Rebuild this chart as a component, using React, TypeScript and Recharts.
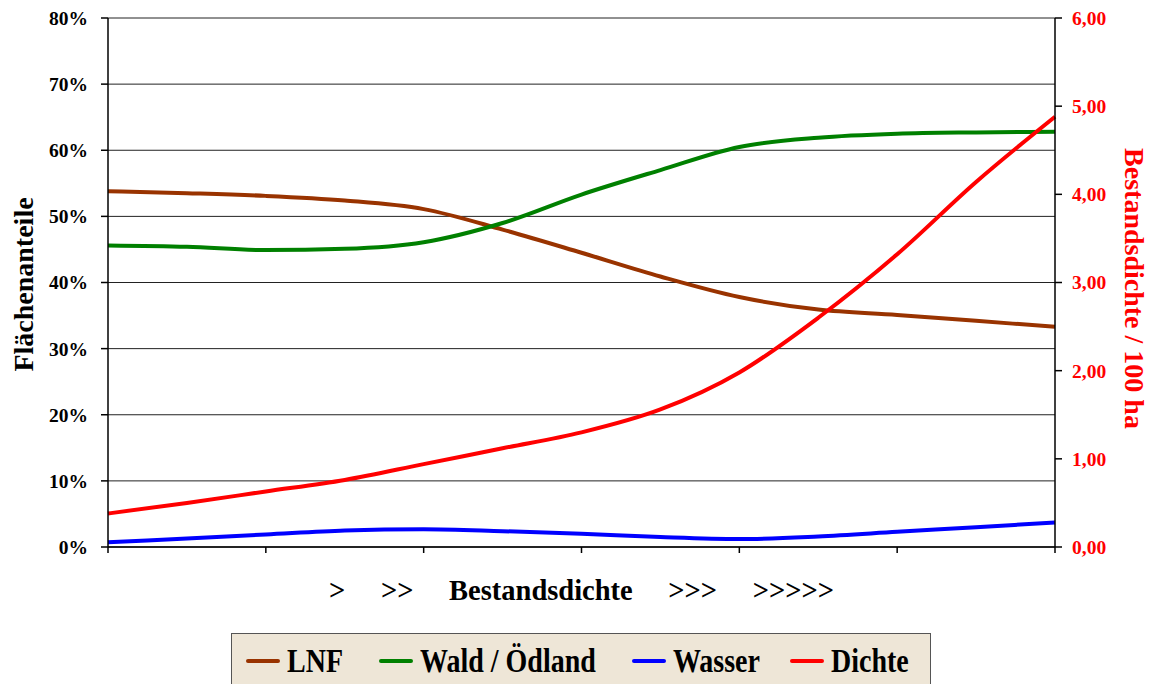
import React from 'react';
import { LineChart, Line, XAxis, YAxis, CartesianGrid, Label } from 'recharts';

const categories = ['1', '2', '3', '4', '5', '6', '7', '8', '9', '10', '11', '12', '13'];
const lnf = [53.8, 53.5, 53.1, 52.4, 51.1, 48.0, 44.5, 40.9, 37.8, 35.9, 35.1, 34.2, 33.3];
const wald = [45.6, 45.4, 44.9, 45.1, 46.1, 49.0, 53.3, 57.0, 60.5, 61.9, 62.5, 62.7, 62.8];
const wasser = [0.7, 1.3, 1.9, 2.5, 2.7, 2.4, 2.0, 1.5, 1.2, 1.6, 2.3, 3.0, 3.7];
const dichte = [0.38, 0.5, 0.63, 0.76, 0.94, 1.12, 1.3, 1.56, 1.98, 2.6, 3.32, 4.14, 4.88];

const leftTicks = [0, 10, 20, 30, 40, 50, 60, 70, 80];
const rightTicks = [0, 1, 2, 3, 4, 5, 6];

const seriesKeys = ['lnf', 'wald', 'wasser', 'dichte'];
const seriesNames = ['LNF', 'Wald / Ödland', 'Wasser', 'Dichte'];
const seriesColors = ['#993300', '#008000', '#0000FF', '#FF0000'];
const seriesAxes = ['left', 'left', 'left', 'right'];

const xTitle = '>     >>     Bestandsdichte     >>>     >>>>>';
const leftTitle = 'Flächenanteile';
const rightTitle = 'Bestandsdichte / 100 ha';

const data = categories.map((c, i) => ({
  cat: c,
  lnf: lnf[i],
  wald: wald[i],
  wasser: wasser[i],
  dichte: dichte[i],
}));

const FONT = "'Liberation Serif', 'Times New Roman', serif";

const EmptyTick = () => <g />;

const renderXTitle = (props: any) => {
  const vb = props.viewBox || {};
  return (
    <text
      x={vb.x + vb.width / 2}
      y={vb.y + 53}
      textAnchor="middle"
      fontFamily={FONT}
      fontWeight="bold"
      fontSize={28.5}
      fill="#000"
      style={{ whiteSpace: 'pre' }}
    >
      {xTitle}
    </text>
  );
};

const renderLeftTitle = (props: any) => {
  const vb = props.viewBox || {};
  const cx = vb.x + 23;
  const cy = vb.y + vb.height / 2 + 2;
  return (
    <text
      x={cx}
      y={cy}
      transform={`rotate(-90 ${cx} ${cy})`}
      textAnchor="middle"
      dominantBaseline="central"
      fontFamily={FONT}
      fontWeight="bold"
      fontSize={28}
      fill="#000"
    >
      {leftTitle}
    </text>
  );
};

const renderRightTitle = (props: any) => {
  const vb = props.viewBox || {};
  const cx = vb.x + 79;
  const cy = vb.y + vb.height / 2 + 6;
  return (
    <text
      x={cx}
      y={cy}
      transform={`rotate(90 ${cx} ${cy})`}
      textAnchor="middle"
      dominantBaseline="central"
      fontFamily={FONT}
      fontWeight="bold"
      fontSize={28}
      fill="#FF0000"
    >
      {rightTitle}
    </text>
  );
};

export default function App() {
  return (
    <div style={{ position: 'absolute', left: 0, top: 0, width: 1151, height: 684, overflow: 'hidden', background: '#fff' }}>
      <LineChart
        width={1151}
        height={684}
        data={data}
        margin={{ top: 18, right: 0, left: 0, bottom: 107 }}
      >
        <CartesianGrid yAxisId="left" vertical={false} stroke="#222" strokeWidth={1} />
        <XAxis
          dataKey="cat"
          interval={1}
          tick={EmptyTick}
          tickSize={6}
          height={30}
          axisLine={{ stroke: '#000', strokeWidth: 1.5 }}
          tickLine={{ stroke: '#000', strokeWidth: 1.5 }}
        >
          <Label content={renderXTitle} />
        </XAxis>
        <YAxis
          yAxisId="left"
          domain={[0, 80]}
          ticks={leftTicks}
          width={108}
          tickSize={7}
          tickMargin={13}
          tickFormatter={(v: number) => `${v}%`}
          tick={{ fontFamily: FONT, fontWeight: 'bold', fontSize: 19.5, fill: '#000' }}
          axisLine={{ stroke: '#000', strokeWidth: 1.5 }}
          tickLine={{ stroke: '#000', strokeWidth: 1.5 }}
        >
          <Label content={renderLeftTitle} />
        </YAxis>
        <YAxis
          yAxisId="right"
          orientation="right"
          domain={[0, 6]}
          ticks={rightTicks}
          width={96}
          tickSize={7}
          tickMargin={10}
          tickFormatter={(v: number) => v.toFixed(2).replace('.', ',')}
          tick={{ fontFamily: FONT, fontWeight: 'bold', fontSize: 19.5, fill: '#FF0000' }}
          axisLine={{ stroke: '#000', strokeWidth: 1.5 }}
          tickLine={{ stroke: '#000', strokeWidth: 1.5 }}
        >
          <Label content={renderRightTitle} />
        </YAxis>
        {seriesKeys.map((k, i) => (
          <Line
            key={k}
            yAxisId={seriesAxes[i]}
            dataKey={k}
            name={seriesNames[i]}
            type="monotone"
            stroke={seriesColors[i]}
            strokeWidth={4}
            dot={false}
            activeDot={false}
            isAnimationActive={false}
          />
        ))}
      </LineChart>
      <div
        style={{
          position: 'absolute',
          left: 231,
          top: 633,
          width: 700,
          height: 60,
          background: '#EEE6D7',
          border: '1px solid #555',
          display: 'flex',
          alignItems: 'flex-start',
          paddingLeft: 14,
          paddingTop: 12,
          boxSizing: 'border-box',
          fontFamily: FONT,
          fontWeight: 'bold',
          fontSize: 28,
          color: '#000',
          whiteSpace: 'nowrap',
        }}
      >
        {seriesNames.map((n, i) => (
          <div key={n} style={{ display: 'flex', alignItems: 'center', height: 30, marginRight: i === 0 ? 36 : i === 1 ? 36 : 30, flexShrink: 0 }}>
            <div style={{ width: 34, height: 4, borderRadius: 2, background: seriesColors[i], marginRight: 7 }} />
            <span style={{ display: 'inline-block', transform: 'scaleY(1.2)', lineHeight: '30px', whiteSpace: 'nowrap' }}>{n}</span>
          </div>
        ))}
      </div>
    </div>
  );
}
